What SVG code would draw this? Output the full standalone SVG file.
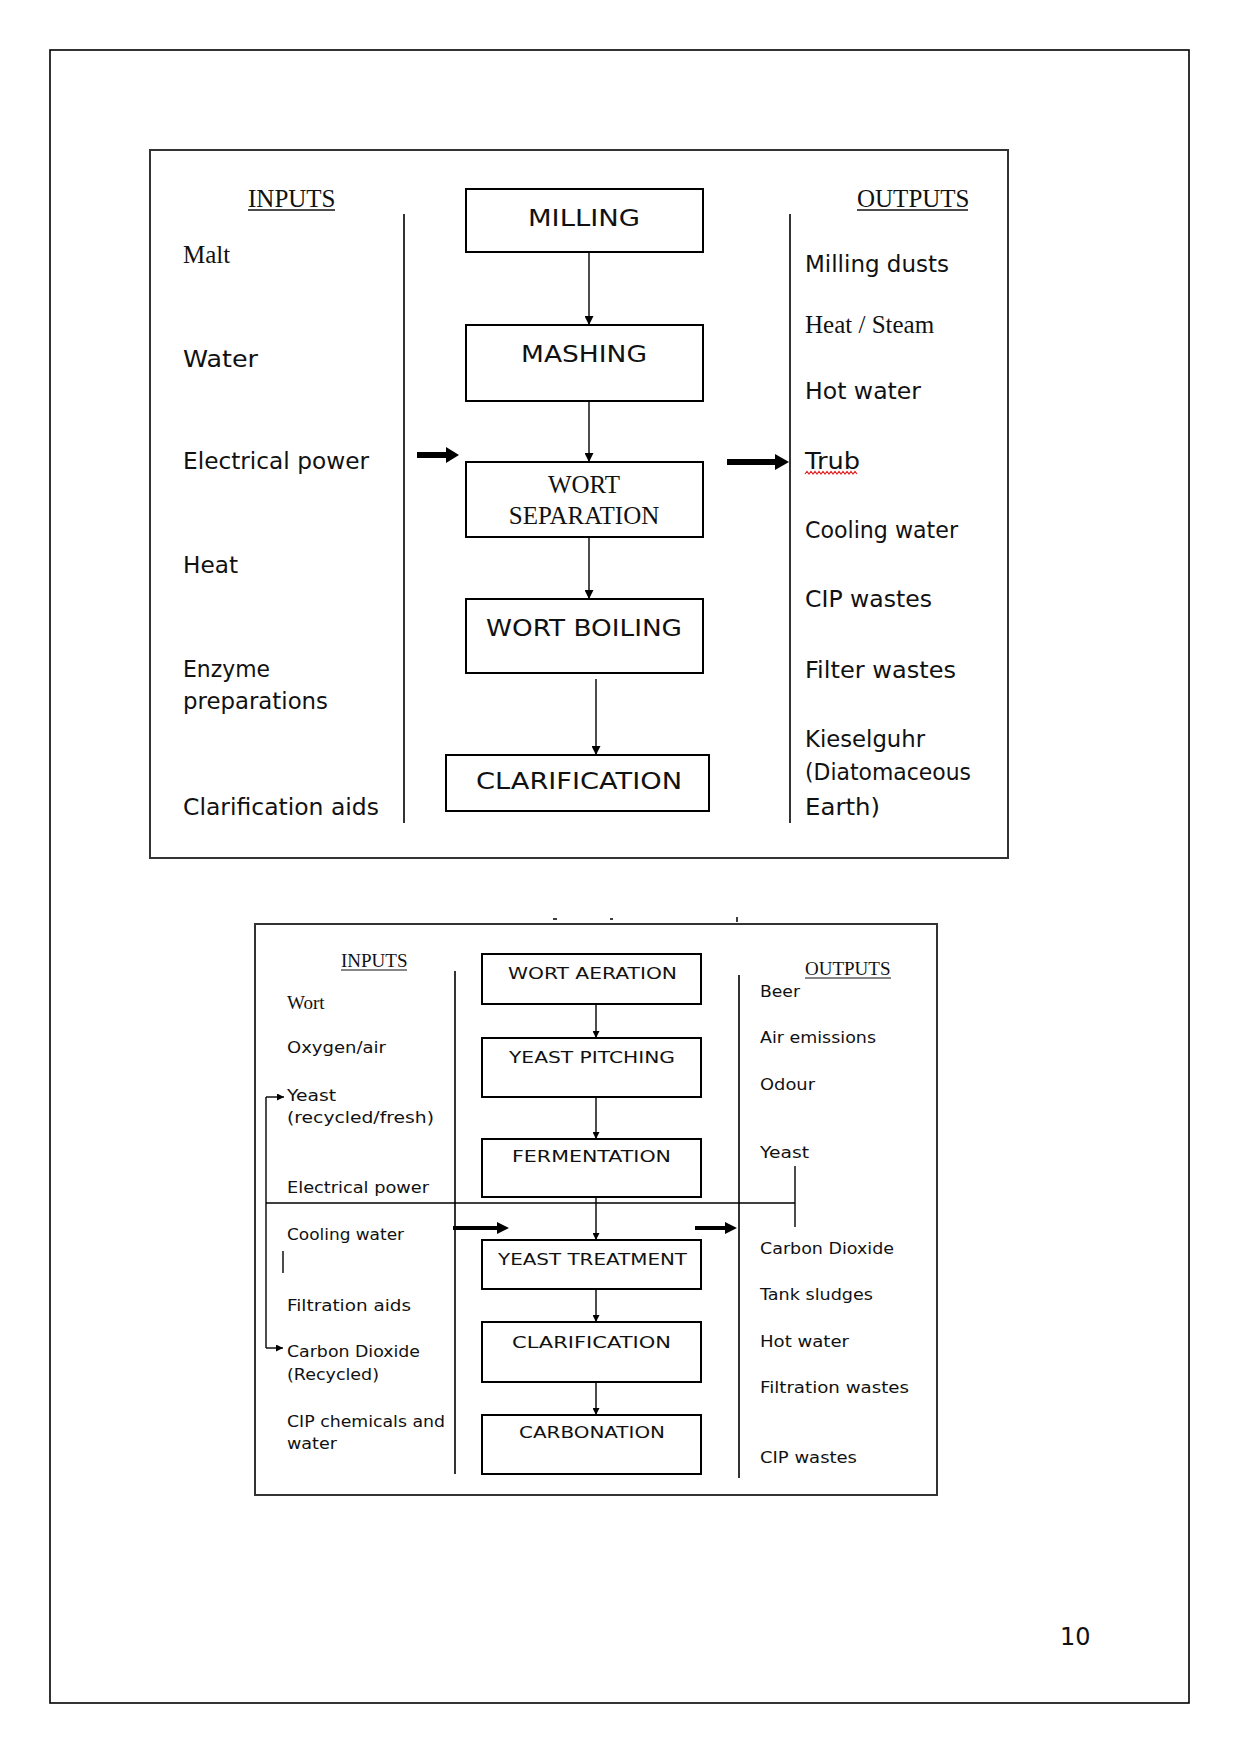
<svg xmlns="http://www.w3.org/2000/svg" width="1241" height="1754" viewBox="0 0 1241 1754">
<style>
.frame{fill:none;stroke:#333;stroke-width:2}
.box{fill:#fff;stroke:#000;stroke-width:2}
.sep{stroke:#000;stroke-width:1.6;fill:none}
.conn{stroke:#000;stroke-width:1.4;fill:none}
.t1{font-family:"DejaVu Sans",sans-serif;font-size:23px;fill:#111}
.t2{font-family:"DejaVu Sans",sans-serif;font-size:16px;fill:#111}
.s1{font-family:"Liberation Serif",serif;font-size:25px;fill:#111}
.s2{font-family:"Liberation Serif",serif;font-size:19px;fill:#111}
.thick{fill:#000}
</style>
<defs>
<marker id="ah" viewBox="0 0 10 10" refX="10" refY="5" markerWidth="11" markerHeight="9" markerUnits="userSpaceOnUse" orient="auto"><path d="M0,0 L10,5 L0,10 z" fill="#000"/></marker>
<marker id="ahs" viewBox="0 0 10 10" refX="10" refY="5" markerWidth="8" markerHeight="7" markerUnits="userSpaceOnUse" orient="auto"><path d="M0,0 L10,5 L0,10 z" fill="#000"/></marker>
</defs>
<rect width="1241" height="1754" fill="#fff"/>
<rect x="50" y="50" width="1139" height="1653" fill="none" stroke="#000" stroke-width="1.6"/>

<!-- Top diagram -->
<g id="top-diagram">
<rect class="frame" x="150" y="150" width="858" height="708"/>
<line class="sep" x1="404" y1="214" x2="404" y2="823"/>
<line class="sep" x1="790" y1="214" x2="790" y2="823"/>
<g id="top-inputs">
<text class="s1" x="248" y="207">INPUTS</text>
<line x1="248" y1="210" x2="335" y2="210" stroke="#111" stroke-width="1.5"/>
<text class="s1" x="183" y="263">Malt</text>
<text class="t1" x="183" y="367" textLength="75" lengthAdjust="spacingAndGlyphs">Water</text>
<text class="t1" x="183" y="469" textLength="186" lengthAdjust="spacingAndGlyphs">Electrical power</text>
<text class="t1" x="183" y="573" textLength="55" lengthAdjust="spacingAndGlyphs">Heat</text>
<text class="t1" x="183" y="677" textLength="87" lengthAdjust="spacingAndGlyphs">Enzyme</text>
<text class="t1" x="183" y="709" textLength="145" lengthAdjust="spacingAndGlyphs">preparations</text>
<text class="t1" x="183" y="815" textLength="196" lengthAdjust="spacingAndGlyphs">Clarification aids</text>
</g>
<g id="top-outputs">
<text class="s1" x="857" y="207">OUTPUTS</text>
<line x1="857" y1="210" x2="968" y2="210" stroke="#111" stroke-width="1.5"/>
<text class="t1" x="805" y="272" textLength="144" lengthAdjust="spacingAndGlyphs">Milling dusts</text>
<text class="s1" x="805" y="333">Heat / Steam</text>
<text class="t1" x="805" y="399" textLength="116" lengthAdjust="spacingAndGlyphs">Hot water</text>
<text class="t1" x="805" y="469" textLength="55" lengthAdjust="spacingAndGlyphs">Trub</text>
<path d="M805,474 l2,-2.5 l2,2.5 l2,-2.5 l2,2.5 l2,-2.5 l2,2.5 l2,-2.5 l2,2.5 l2,-2.5 l2,2.5 l2,-2.5 l2,2.5 l2,-2.5 l2,2.5 l2,-2.5 l2,2.5 l2,-2.5 l2,2.5 l2,-2.5 l2,2.5 l2,-2.5 l2,2.5 l2,-2.5 l2,2.5 l2,-2.5 l2,2.5" fill="none" stroke="#e02020" stroke-width="1.2"/>
<text class="t1" x="805" y="538" textLength="153" lengthAdjust="spacingAndGlyphs">Cooling water</text>
<text class="t1" x="805" y="607" textLength="127" lengthAdjust="spacingAndGlyphs">CIP wastes</text>
<text class="t1" x="805" y="678" textLength="151" lengthAdjust="spacingAndGlyphs">Filter wastes</text>
<text class="t1" x="805" y="747" textLength="120" lengthAdjust="spacingAndGlyphs">Kieselguhr</text>
<text class="t1" x="805" y="780" textLength="166" lengthAdjust="spacingAndGlyphs">(Diatomaceous</text>
<text class="t1" x="805" y="815" textLength="75" lengthAdjust="spacingAndGlyphs">Earth)</text>
</g>
<g id="n-milling"><rect class="box" x="466" y="189" width="237" height="63"/><text class="t1" x="528" y="226" textLength="112" lengthAdjust="spacingAndGlyphs">MILLING</text></g>
<g id="n-mashing"><rect class="box" x="466" y="325" width="237" height="76"/><text class="t1" x="521" y="362" textLength="126" lengthAdjust="spacingAndGlyphs">MASHING</text></g>
<g id="n-wortsep"><rect class="box" x="466" y="462" width="237" height="75"/><text class="s1" x="584" y="493" text-anchor="middle">WORT</text><text class="s1" x="584" y="524" text-anchor="middle">SEPARATION</text></g>
<g id="n-wortboil"><rect class="box" x="466" y="599" width="237" height="74"/><text class="t1" x="486" y="636" textLength="196" lengthAdjust="spacingAndGlyphs">WORT BOILING</text></g>
<g id="n-clar1"><rect class="box" x="446" y="755" width="263" height="56"/><text class="t1" x="476" y="789" textLength="206" lengthAdjust="spacingAndGlyphs">CLARIFICATION</text></g>
</g>
<g id="top-connectors">
<line class="conn" x1="589" y1="252" x2="589" y2="325" marker-end="url(#ah)"/>
<line class="conn" x1="589" y1="401" x2="589" y2="462" marker-end="url(#ah)"/>
<line class="conn" x1="589" y1="537" x2="589" y2="599" marker-end="url(#ah)"/>
<line class="conn" x1="596" y1="679" x2="596" y2="755" marker-end="url(#ah)"/>
<polygon class="thick" points="417,452 446,452 446,447 459,455 446,463 446,458 417,458"/>
<polygon class="thick" points="727,459 775,459 775,454 789,462 775,470 775,465 727,465"/>
</g>

<!-- Bottom diagram -->
<g id="bottom-diagram">
<rect class="frame" x="255" y="924" width="682" height="571"/>
<g stroke="#000" stroke-width="1.5">
<line x1="553" y1="919" x2="557" y2="919"/>
<line x1="610" y1="919" x2="613" y2="919"/>
<line x1="737" y1="917" x2="737" y2="922"/>
</g>
<line class="sep" x1="455" y1="971" x2="455" y2="1474"/>
<line class="sep" x1="739" y1="975" x2="739" y2="1478"/>
<g id="bottom-inputs">
<text class="s2" x="341" y="967">INPUTS</text>
<line x1="341" y1="970" x2="407" y2="970" stroke="#111" stroke-width="1.2"/>
<text class="s2" x="287" y="1009">Wort</text>
<text class="t2" x="287" y="1053" textLength="99" lengthAdjust="spacingAndGlyphs">Oxygen/air</text>
<text class="t2" x="287" y="1101" textLength="49" lengthAdjust="spacingAndGlyphs">Yeast</text>
<text class="t2" x="287" y="1123" textLength="147" lengthAdjust="spacingAndGlyphs">(recycled/fresh)</text>
<text class="t2" x="287" y="1193" textLength="142" lengthAdjust="spacingAndGlyphs">Electrical power</text>
<text class="t2" x="287" y="1240" textLength="117" lengthAdjust="spacingAndGlyphs">Cooling water</text>
<text class="t2" x="287" y="1311" textLength="124" lengthAdjust="spacingAndGlyphs">Filtration aids</text>
<text class="t2" x="287" y="1357" textLength="133" lengthAdjust="spacingAndGlyphs">Carbon Dioxide</text>
<text class="t2" x="287" y="1380" textLength="92" lengthAdjust="spacingAndGlyphs">(Recycled)</text>
<text class="t2" x="287" y="1427" textLength="158" lengthAdjust="spacingAndGlyphs">CIP chemicals and</text>
<text class="t2" x="287" y="1449" textLength="50" lengthAdjust="spacingAndGlyphs">water</text>
</g>
<g id="bottom-outputs">
<text class="s2" x="805" y="975">OUTPUTS</text>
<line x1="805" y1="978" x2="891" y2="978" stroke="#111" stroke-width="1.2"/>
<text class="t2" x="760" y="997" textLength="40" lengthAdjust="spacingAndGlyphs">Beer</text>
<text class="t2" x="760" y="1043" textLength="116" lengthAdjust="spacingAndGlyphs">Air emissions</text>
<text class="t2" x="760" y="1090" textLength="55" lengthAdjust="spacingAndGlyphs">Odour</text>
<text class="t2" x="760" y="1158" textLength="49" lengthAdjust="spacingAndGlyphs">Yeast</text>
<text class="t2" x="760" y="1254" textLength="134" lengthAdjust="spacingAndGlyphs">Carbon Dioxide</text>
<text class="t2" x="760" y="1300" textLength="113" lengthAdjust="spacingAndGlyphs">Tank sludges</text>
<text class="t2" x="760" y="1347" textLength="89" lengthAdjust="spacingAndGlyphs">Hot water</text>
<text class="t2" x="760" y="1393" textLength="149" lengthAdjust="spacingAndGlyphs">Filtration wastes</text>
<text class="t2" x="760" y="1463" textLength="97" lengthAdjust="spacingAndGlyphs">CIP wastes</text>
</g>
<g id="n-aeration"><rect class="box" x="482" y="954" width="219" height="50"/><text class="t2" x="508" y="979" textLength="169" lengthAdjust="spacingAndGlyphs">WORT AERATION</text></g>
<g id="n-pitching"><rect class="box" x="482" y="1038" width="219" height="59"/><text class="t2" x="509" y="1063" textLength="166" lengthAdjust="spacingAndGlyphs">YEAST PITCHING</text></g>
<g id="n-fermentation"><rect class="box" x="482" y="1139" width="219" height="58"/><text class="t2" x="512" y="1162" textLength="159" lengthAdjust="spacingAndGlyphs">FERMENTATION</text></g>
<g id="n-treatment"><rect class="box" x="482" y="1240" width="219" height="49"/><text class="t2" x="498" y="1265" textLength="189" lengthAdjust="spacingAndGlyphs">YEAST TREATMENT</text></g>
<g id="n-clar2"><rect class="box" x="482" y="1322" width="219" height="60"/><text class="t2" x="512" y="1348" textLength="159" lengthAdjust="spacingAndGlyphs">CLARIFICATION</text></g>
<g id="n-carbonation"><rect class="box" x="482" y="1415" width="219" height="59"/><text class="t2" x="519" y="1438" textLength="146" lengthAdjust="spacingAndGlyphs">CARBONATION</text></g>
</g>
<g id="bottom-connectors">
<line class="conn" x1="596" y1="1004" x2="596" y2="1038" marker-end="url(#ahs)"/>
<line class="conn" x1="596" y1="1097" x2="596" y2="1139" marker-end="url(#ahs)"/>
<line class="conn" x1="596" y1="1197" x2="596" y2="1240" marker-end="url(#ahs)"/>
<line class="conn" x1="596" y1="1289" x2="596" y2="1322" marker-end="url(#ahs)"/>
<line class="conn" x1="596" y1="1382" x2="596" y2="1415" marker-end="url(#ahs)"/>
<line class="conn" x1="266" y1="1203" x2="795" y2="1203"/>
<line class="conn" x1="795" y1="1166" x2="795" y2="1227"/>
<line class="conn" x1="266" y1="1097" x2="266" y2="1348"/>
<line class="conn" x1="266" y1="1097" x2="284" y2="1097" marker-end="url(#ahs)"/>
<line class="conn" x1="266" y1="1348" x2="283" y2="1348" marker-end="url(#ahs)"/>
<line class="conn" x1="283" y1="1251" x2="283" y2="1273"/>
<polygon class="thick" points="453,1226 497,1226 497,1222 509,1228 497,1234 497,1230 453,1230"/>
<polygon class="thick" points="695,1226 725,1226 725,1222 737,1228 725,1234 725,1230 695,1230"/>
</g>
<text x="1060" y="1645" font-family="DejaVu Sans, sans-serif" font-size="24" fill="#111">10</text>
</svg>
